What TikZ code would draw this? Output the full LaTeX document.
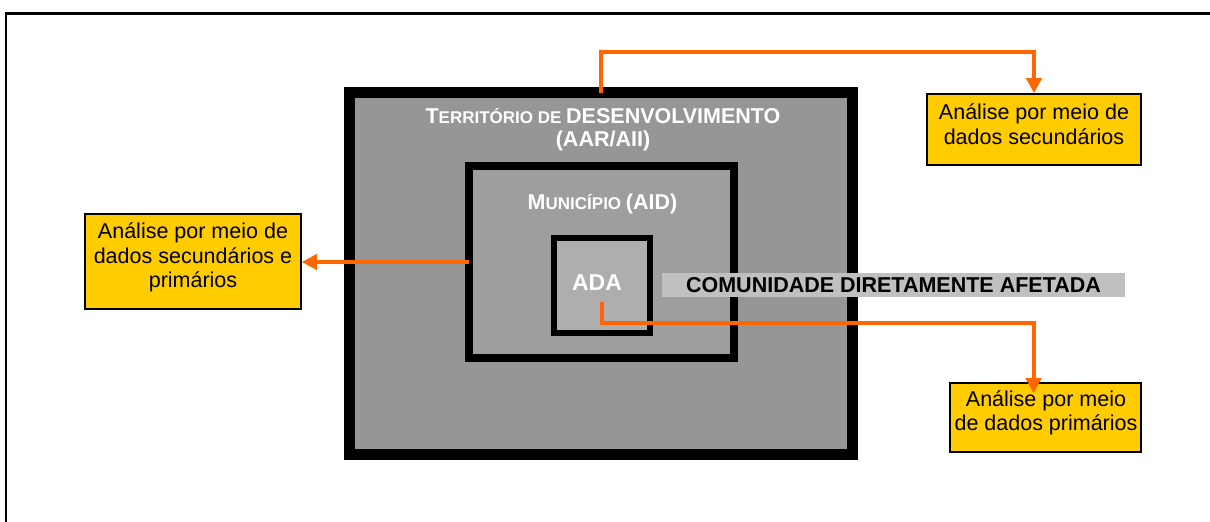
\documentclass[tikz,border=0pt]{standalone}
\usepackage{fontspec}
\setmainfont{Liberation Sans}
\usetikzlibrary{arrows.meta,calc}
\definecolor{outergray}{HTML}{969696}
\definecolor{midgray}{HTML}{9E9E9E}
\definecolor{adagray}{HTML}{AEAEAE}
\definecolor{labelgray}{HTML}{C0C0C0}
\definecolor{boxyellow}{HTML}{FFCC00}
\definecolor{orng}{HTML}{FF6600}
\begin{document}
\begin{tikzpicture}[x=1pt,y=-1pt,
  areabox/.style={draw=black, inner sep=0pt, outer sep=0pt},
  infobox/.style={draw=black, line width=1.6pt, fill=boxyellow, inner sep=0pt},
  boxtext/.style={align=center, inner sep=0pt, anchor=north,
    font=\fontsize{21.5}{24.5}\selectfont},
  whitetitle/.style={text=white, font=\bfseries, inner sep=0pt},
  conn/.style={draw=orng, line width=4pt, -{Triangle[length=15pt,width=15pt]}}
]
\useasboundingbox (0,0) rectangle (1210,522);
% frame
\draw[line width=2.5pt] (6,522) -- (6,13.5) -- (1210,13.5);

% nested areas
\node[areabox, line width=11pt, fill=outergray, minimum width=503pt, minimum height=362pt] (outer) at (601,273.5) {};
\node[areabox, line width=8pt, fill=midgray, minimum width=265pt, minimum height=192pt] (mid) at (601.5,262) {};
\node[areabox, line width=6pt, fill=adagray, minimum width=96pt, minimum height=95pt] (ada) at (602,285.5) {};

% titles
\node[whitetitle, anchor=base] (t1) at (603,123)
  {{\fontsize{21.5}{24}\selectfont T}{\fontsize{17}{24}\selectfont ERRITÓRIO DE }{\fontsize{21.5}{24}\selectfont DESENVOLVIMENTO}};
\node[whitetitle, anchor=base, font=\bfseries\fontsize{21.5}{24}\selectfont] (t2) at (603,146) {(AAR/AII)};
\node[whitetitle, anchor=base] (t3) at (602.5,209)
  {{\fontsize{21.5}{24}\selectfont M}{\fontsize{17}{24}\selectfont UNICÍPIO }{\fontsize{21.5}{24}\selectfont (AID)}};
\node[whitetitle, anchor=base, font=\bfseries\fontsize{23}{24}\selectfont] (t4) at (597,290.5) {ADA};

% community label
\node[fill=labelgray, minimum width=463pt, minimum height=24pt, inner sep=0pt,
  font=\bfseries\fontsize{21.5}{24}\selectfont] (com) at (893.5,285) {COMUNIDADE DIRETAMENTE AFETADA};

% info boxes
\node[infobox, minimum width=214pt, minimum height=71pt] (tr) at (1034,129.5) {};
\node[boxtext] (trtext) at (1034,103.5) {Análise por meio de\\dados secundários};
\node[infobox, minimum width=216pt, minimum height=95pt] (lb) at (193,261.5) {};
\node[boxtext] (lbtext) at (193,222.5) {Análise por meio de\\dados secundários e\\primários};
\node[infobox, minimum width=191pt, minimum height=69pt] (br) at (1045.5,417.5) {};
\node[boxtext] (brtext) at (1046,390) {Análise por meio\\de dados primários};

% connectors
\draw[conn] (outer.north) -- ++(0,-41) -| (tr.north);
\draw[conn] (mid.west) -- (mid.west -| lb.east);
\coordinate (adastart) at (602,302);
\draw[conn] (adastart) |- ([xshift=-12pt,yshift=59pt]br.north) -- ([xshift=-12pt,yshift=-11pt]br.north);
\end{tikzpicture}
\end{document}
